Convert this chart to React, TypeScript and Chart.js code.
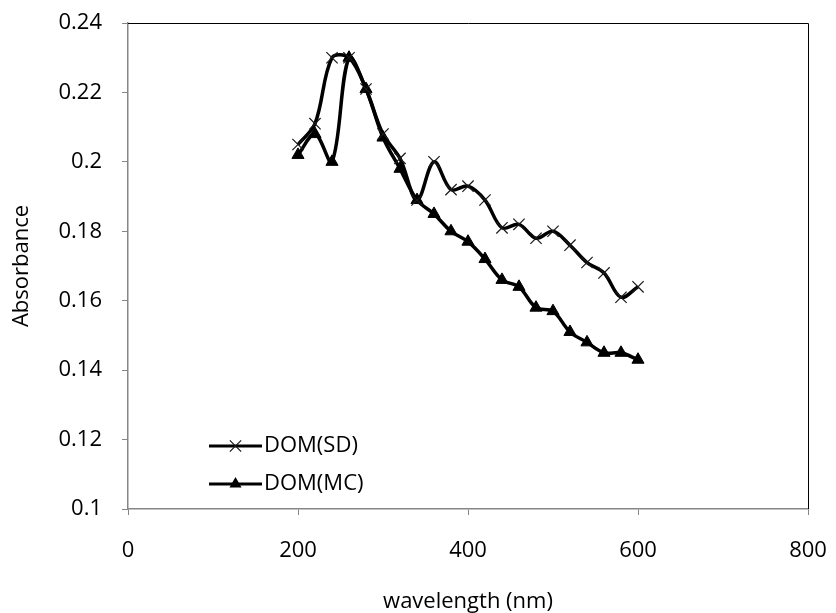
import React, { useEffect, useRef } from "react";
import { Chart, registerables } from "chart.js";

Chart.register(...registerables);

const wavelengths = [200, 220, 240, 260, 280, 300, 320, 340, 360, 380, 400, 420, 440, 460, 480, 500, 520, 540, 560, 580, 600];
const domSD = [0.205, 0.211, 0.230, 0.230, 0.221, 0.208, 0.201, 0.189, 0.200, 0.192, 0.193, 0.189, 0.181, 0.182, 0.178, 0.180, 0.176, 0.171, 0.168, 0.161, 0.164];
const domMC = [0.202, 0.208, 0.200, 0.230, 0.221, 0.207, 0.198, 0.189, 0.185, 0.180, 0.177, 0.172, 0.166, 0.164, 0.158, 0.157, 0.151, 0.148, 0.145, 0.145, 0.143];
const seriesNames = ["DOM(SD)", "DOM(MC)"];
const xTitle = "wavelength (nm)";
const yTitle = "Absorbance";

const FONT = "'Open Sans', sans-serif";
const AXIS_GRAY = "#868686";

const zeroPad = (s: any) => {
  s.paddingTop = 0;
  s.paddingBottom = 0;
  s.paddingLeft = 0;
  s.paddingRight = 0;
};

const frameAndLegend = {
  id: "frameAndLegend",
  afterDraw(chart: any) {
    const { ctx, chartArea } = chart;
    const { left, right, top, bottom } = chartArea;
    ctx.save();
    ctx.strokeStyle = "#000";
    ctx.lineWidth = 1;
    ctx.beginPath();
    ctx.moveTo(left, top + 0.5);
    ctx.lineTo(right + 0.5, top + 0.5);
    ctx.lineTo(right + 0.5, bottom);
    ctx.stroke();

    // legend inside plot area
    const items = chart.data.datasets;
    const lx0 = left + 81;
    const lx1 = left + 134;
    const rowY = [bottom - 63, bottom - 25];
    items.forEach((ds: any, i: number) => {
      const y = rowY[i];
      ctx.strokeStyle = "#000";
      ctx.lineWidth = 3;
      ctx.beginPath();
      ctx.moveTo(lx0, y);
      ctx.lineTo(lx1, y);
      ctx.stroke();
      const cx = (lx0 + lx1) / 2;
      if (ds.pointStyle === "crossRot") {
        const r = ds.pointRadius * 0.7071;
        ctx.strokeStyle = ds.pointBorderColor;
        ctx.lineWidth = ds.pointBorderWidth;
        ctx.beginPath();
        ctx.moveTo(cx - r, y - r);
        ctx.lineTo(cx + r, y + r);
        ctx.moveTo(cx - r, y + r);
        ctx.lineTo(cx + r, y - r);
        ctx.stroke();
      } else {
        const r = ds.pointRadius;
        ctx.fillStyle = ds.pointBackgroundColor;
        ctx.beginPath();
        ctx.moveTo(cx, y - r);
        ctx.lineTo(cx + r * 0.866, y + r * 0.5);
        ctx.lineTo(cx - r * 0.866, y + r * 0.5);
        ctx.closePath();
        ctx.fill();
      }
      ctx.fillStyle = "#000";
      ctx.font = `22px ${FONT}`;
      ctx.textBaseline = "middle";
      ctx.textAlign = "left";
      ctx.fillText(ds.label, lx1 + 2, y);
    });
    ctx.restore();
  },
};

export default function App() {
  const ref = useRef<HTMLCanvasElement | null>(null);
  useEffect(() => {
    if (!ref.current) return;
    const chart = new Chart(ref.current, {
      type: "line",
      data: {
        datasets: [
          {
            label: seriesNames[0],
            data: wavelengths.map((x, i) => ({ x, y: domSD[i] })),
            borderColor: "#000",
            borderWidth: 3.5,
            tension: 0.35,
            pointStyle: "crossRot",
            pointRadius: 8,
            pointBorderWidth: 1.2,
            pointBorderColor: "#1a1a1a",
            pointBackgroundColor: "#1a1a1a",
          },
          {
            label: seriesNames[1],
            data: wavelengths.map((x, i) => ({ x, y: domMC[i] })),
            borderColor: "#000",
            borderWidth: 3.5,
            tension: 0.35,
            pointStyle: "triangle",
            pointRadius: 7,
            pointBorderWidth: 1,
            pointBorderColor: "#000",
            pointBackgroundColor: "#000",
          },
        ],
      },
      options: {
        animation: false,
        responsive: false,
        maintainAspectRatio: false,
        layout: { padding: { left: 0, top: 23, right: 28, bottom: 0 } },
        plugins: {
          legend: { display: false },
          tooltip: { enabled: false },
        },
        scales: {
          x: {
            type: "linear",
            min: 0,
            max: 800,
            ticks: {
              stepSize: 200,
              color: "#000",
              font: { family: FONT, size: 22 },
              padding: 23,
              maxRotation: 0,
            },
            grid: {
              drawOnChartArea: false,
              drawTicks: true,
              tickLength: 6,
              color: AXIS_GRAY,
            },
            border: { color: AXIS_GRAY, width: 1.5 },
            title: {
              display: true,
              text: xTitle,
              color: "#000",
              font: { family: FONT, size: 22, lineHeight: 1.0 },
              padding: { top: 0, bottom: 0 },
            },
            afterFit: (s: any) => {
              s.height = 104;
              zeroPad(s);
            },
          },
          y: {
            min: 0.1,
            max: 0.24,
            ticks: {
              stepSize: 0.02,
              color: "#000",
              font: { family: FONT, size: 22 },
              padding: 20,
              callback: (v: any) => String(Number(Number(v).toFixed(2))),
            },
            grid: {
              drawOnChartArea: false,
              drawTicks: true,
              tickLength: 6,
              color: AXIS_GRAY,
            },
            border: { color: AXIS_GRAY, width: 1.5 },
            title: {
              display: true,
              text: yTitle,
              color: "#000",
              font: { family: FONT, size: 22 },
              padding: { top: 9, bottom: 0 },
            },
            afterFit: (s: any) => {
              s.width = 128;
              zeroPad(s);
            },
          },
        },
      },
      plugins: [frameAndLegend],
    });
    return () => chart.destroy();
  }, []);
  return (
    <div style={{ position: "absolute", left: 0, top: 0, width: 836, height: 613, background: "#fff" }}>
      <canvas ref={ref} width={836} height={613} style={{ display: "block" }} />
    </div>
  );
}
